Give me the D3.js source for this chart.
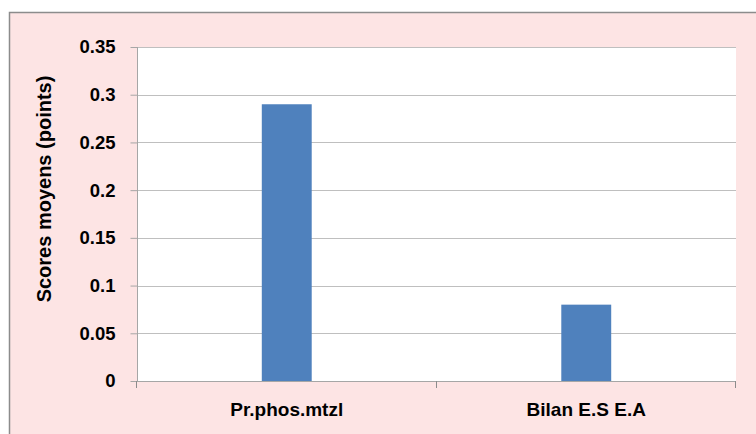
<!DOCTYPE html>
<html>
<head>
<meta charset="utf-8">
<script src="https://cdn.jsdelivr.net/npm/d3@7"></script>
<style>
  body { margin: 0; background: #ffffff; }
  text { font-family: "Liberation Sans", Arial, sans-serif; font-weight: bold; fill: #000; }
</style>
</head>
<body>
<svg id="graphique" width="756" height="434"></svg>
<script>
// donnees
var categories = ["Pr.phos.mtzl", "Bilan E.S E.A"];
var scores = [0.29, 0.08];
var yTicks = [0, 0.05, 0.1, 0.15, 0.2, 0.25, 0.3, 0.35];
var yTitle = "Scores moyens (points)";

var graphique = d3.select("#graphique");
var MARGINS = { top: 47, right: 20, bottom: 53, left: 137 };

// fond rose + bordure
graphique.append("rect")
  .attr("x", 9.5).attr("y", 12.5)
  .attr("width", 760).attr("height", 440)
  .attr("fill", "#fde4e4")
  .attr("stroke", "#8c8c8c")
  .attr("stroke-width", 1.5);

// zone de trace blanche
graphique.append("rect")
  .attr("x", MARGINS.left).attr("y", MARGINS.top)
  .attr("width", 736 - MARGINS.left).attr("height", 381 - MARGINS.top)
  .attr("fill", "#ffffff");

var xScale = d3.scaleBand().domain(categories)
  .range([MARGINS.left, 736])
  .paddingInner(5 / 6).paddingOuter(5 / 12);
var yScale = d3.scaleLinear().domain([0, 0.35]).range([381, MARGINS.top]);

// lignes de grille
graphique.selectAll(".grille").data(yTicks.slice(1)).enter()
  .append("line")
  .attr("x1", MARGINS.left).attr("x2", 736)
  .attr("y1", function(d){ return Math.round(yScale(d)) + 0.5; })
  .attr("y2", function(d){ return Math.round(yScale(d)) + 0.5; })
  .attr("stroke", "#bfbfbf").attr("stroke-width", 1.2);

// barres
graphique.selectAll(".barre").data(scores).enter()
  .append("rect")
  .attr("x", function(d, i){ return xScale(categories[i]); })
  .attr("y", function(d){ return yScale(d); })
  .attr("width", xScale.bandwidth())
  .attr("height", function(d){ return 381 - yScale(d); })
  .attr("fill", "#4f81bd");

// axe y
var yAxis = d3.axisLeft(yScale).tickValues(yTicks)
  .tickFormat(function(d){ return d3.format("")(+d.toFixed(2)); })
  .tickSize(7).tickPadding(15);
var gy = graphique.append("g")
  .attr("transform", "translate(" + (MARGINS.left + 0.5) + ",0)")
  .call(yAxis);
gy.select(".domain").attr("stroke", "#a6a6a6").attr("d", "M0,47V381");
gy.selectAll(".tick line").attr("stroke", "#a6a6a6");
gy.selectAll(".tick text").attr("font-size", 18.5).attr("font-family", null);

// axe x
var xBounds = d3.scaleLinear().domain([0, categories.length]).range([MARGINS.left, 736]);
var gx = graphique.append("g");
gx.append("line")
  .attr("x1", MARGINS.left).attr("x2", 736)
  .attr("y1", 381.5).attr("y2", 381.5)
  .attr("stroke", "#a6a6a6").attr("stroke-width", 1.2);
gx.selectAll(".tickx").data(d3.range(categories.length + 1)).enter()
  .append("line")
  .attr("x1", function(d){ return Math.round(xBounds(d)) - 0.5; })
  .attr("x2", function(d){ return Math.round(xBounds(d)) - 0.5; })
  .attr("y1", 381).attr("y2", 388)
  .attr("stroke", "#8c8c8c");
gx.selectAll(".etiquette").data(categories).enter()
  .append("text")
  .attr("x", function(d){ return xScale(d) + xScale.bandwidth() / 2; })
  .attr("y", 416)
  .attr("text-anchor", "middle")
  .attr("font-size", 19)
  .text(function(d){ return d; });

// titre axe y
graphique.append("text")
  .attr("transform", "translate(51,189) rotate(-90)")
  .attr("text-anchor", "middle")
  .attr("font-size", 20)
  .text(yTitle);
</script>
</body>
</html>
